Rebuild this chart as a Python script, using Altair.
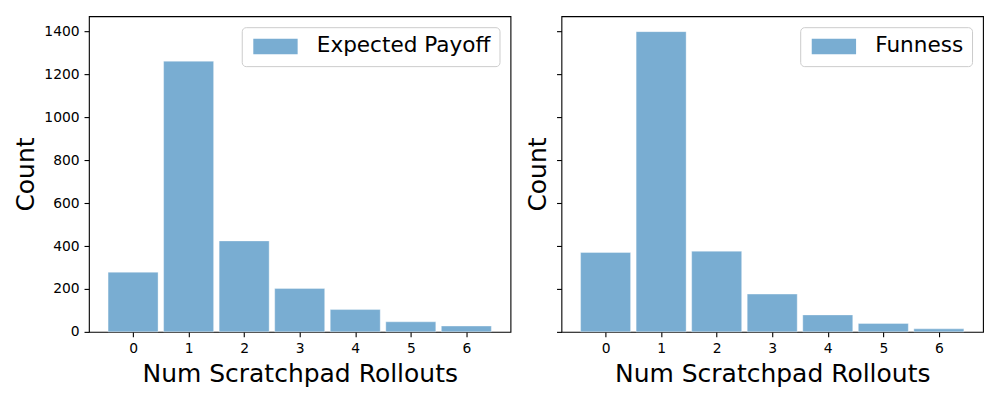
import altair as alt
import pandas as pd

rollouts = [0, 1, 2, 3, 4, 5, 6]
expected_payoff = [278, 1262, 424, 202, 104, 47, 27]
funness = [370, 1400, 376, 176, 79, 39, 14]
y_ticks = [0, 200, 400, 600, 800, 1000, 1200, 1400]

BAR_COLOR = "#79add2"
FONT = "DejaVu Sans"


def panel(values, name, show_labels):
    df = pd.DataFrame({"rollouts": rollouts, "count": values, "series": name})
    return (
        alt.Chart(df)
        .transform_calculate(x0="datum.rollouts - 0.45", x1="datum.rollouts + 0.45")
        .mark_rect(stroke="#ffffff", strokeOpacity=0.35, strokeWidth=1)
        .encode(
            x=alt.X(
                "x0:Q",
                scale=alt.Scale(domain=[-0.795, 6.795], nice=False, zero=False),
                axis=alt.Axis(
                    values=rollouts,
                    title="Num Scratchpad Rollouts",
                    format="d",
                ),
            ),
            x2="x1:Q",
            y=alt.Y(
                "count:Q",
                scale=alt.Scale(domain=[0, 1472], nice=False, padding=0),
                axis=alt.Axis(values=y_ticks, title="Count", labels=show_labels, format="d"),
            ),
            y2=alt.datum(0),
            color=alt.Color(
                "series:N",
                scale=alt.Scale(domain=[name], range=[BAR_COLOR]),
                legend=alt.Legend(
                    title=None,
                    orient="top-right",
                    offset=11,
                    padding=8.5,
                    fillColor="#ffffff",
                    strokeColor="#cccccc",
                    cornerRadius=4,
                    symbolType="M-1,-1H4.73V1H-1Z",
                    symbolSize=240,
                    symbolStrokeWidth=0,
                    labelOffset=45,
                    labelLimit=0,
                    labelFont=FONT,
                    labelFontSize=21.6,
                    labelColor="#000000",
                ),
            ),
        )
        .properties(width=422, height=316)
    )


left = panel(expected_payoff, "Expected Payoff", True)
right = panel(funness, "Funness", False)

chart = (
    alt.hconcat(left, right, spacing=13)
    .resolve_scale(color="independent")
    .properties(padding={"left": 4, "top": 7, "right": 5, "bottom": 5})
    .configure_view(stroke="#000000", strokeWidth=1.1)
    .configure_axis(
        grid=False,
        domain=False,
        ticks=True,
        tickColor="#000000",
        tickSize=4.9,
        tickWidth=1.1,
        labelPadding=4.9,
        labelFont=FONT,
        labelFontSize=13.9,
        labelColor="#000000",
        titleFont=FONT,
        titleFontSize=25,
        titleFontWeight="normal",
        titleColor="#000000",
        titlePadding=5.6,
    )
)

chart.save("out.html", embed_options={"renderer": "svg", "actions": False})
